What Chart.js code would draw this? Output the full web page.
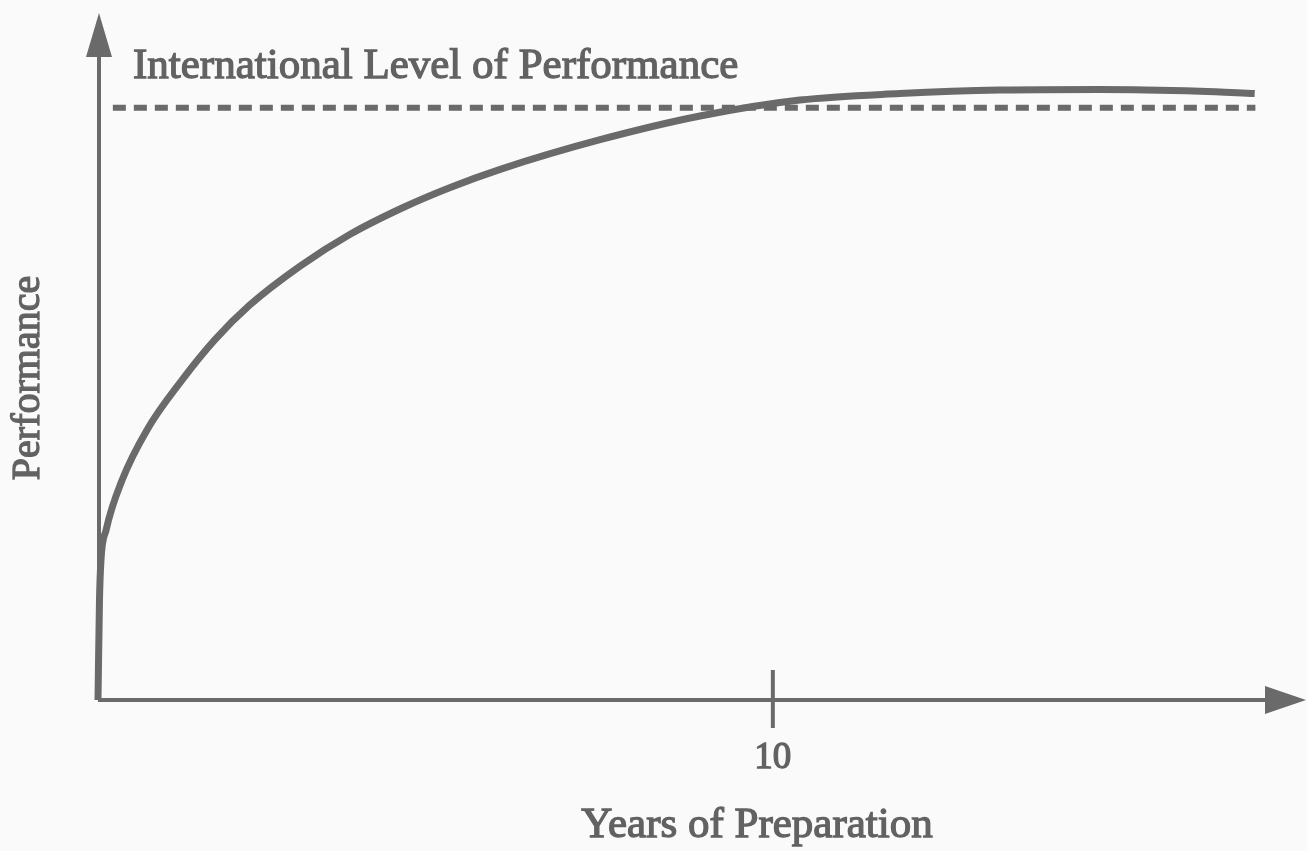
<!DOCTYPE html>
<html>
<head>
<meta charset="utf-8">
<script src="https://cdn.jsdelivr.net/npm/chart.js@4"></script>
<style>
  html, body { margin: 0; padding: 0; background: #fafafa; }
  #wrap { width: 1307px; height: 851px; position: relative; }
</style>
</head>
<body>
<div id="wrap"><canvas id="perfChart"></canvas></div>
<script>
// Years of preparation vs performance
const years = [0, 0.022, 0.044, 0.12, 0.356, 0.726, 1.244, 1.73, 2.25, 3.0, 3.73, 4.53, 5.21, 5.96, 7.44, 8.92, 10.4, 11.88, 13.36, 14.84, 16.33, 17.14];
const performance = [0, 16.9, 23.6, 28.7, 37.1, 45.6, 54, 60.8, 66.7, 73.3, 78.6, 83.2, 86.5, 89.6, 94.6, 98.6, 101.3, 102.4, 103, 103.1, 102.8, 102.4];

// International level (dashed line) and where it runs
const intlLevel = 100;
const intlRange = [0.22, 17.15];

const xTicks = [10];
const xMax = 17.9;
const yMax = 116;

const ink = '#6a6a6a';
const textInk = '#626262';

// axes with arrowheads, the single tick and all the text
const sketchAxes = {
    id: 'sketchAxes',
    beforeDatasetsDraw(chart) {
        const { ctx } = chart;
        const x = chart.scales.x, y = chart.scales.y;
        const x0 = x.getPixelForValue(0), y0 = y.getPixelForValue(0);
        const xEnd = x.getPixelForValue(xMax), yEnd = y.getPixelForValue(yMax);
        ctx.save();
        ctx.strokeStyle = ink;
        ctx.fillStyle = ink;
        ctx.lineWidth = 4;
        ctx.beginPath();
        ctx.moveTo(x0 + 1, y0);
        ctx.lineTo(x0 + 1, yEnd + 40);
        ctx.moveTo(x0, y0);
        ctx.lineTo(xEnd - 38, y0);
        ctx.stroke();
        // arrow heads
        ctx.beginPath();
        ctx.moveTo(x0 + 1, yEnd);
        ctx.lineTo(x0 + 14, yEnd + 44);
        ctx.lineTo(x0 - 12, yEnd + 44);
        ctx.closePath();
        ctx.fill();
        ctx.beginPath();
        ctx.moveTo(xEnd, y0);
        ctx.lineTo(xEnd - 41, y0 - 14);
        ctx.lineTo(xEnd - 41, y0 + 14);
        ctx.closePath();
        ctx.fill();
        // tick marks
        xTicks.forEach(v => {
            const px = x.getPixelForValue(v);
            ctx.beginPath();
            ctx.moveTo(px, y0 - 30);
            ctx.lineTo(px, y0 + 28);
            ctx.stroke();
        });
        ctx.restore();
    },
    afterDraw(chart) {
        const { ctx } = chart;
        const x = chart.scales.x;
        const y0 = chart.scales.y.getPixelForValue(0);
        ctx.save();
        ctx.fillStyle = textInk;
        ctx.strokeStyle = textInk;
        ctx.lineWidth = 1.3;
        const put = (txt, px, py) => { ctx.fillText(txt, px, py); ctx.strokeText(txt, px, py); };

        ctx.font = '37px "Liberation Serif"';
        ctx.textAlign = 'center';
        ctx.textBaseline = 'alphabetic';
        xTicks.forEach(v => put(String(v), x.getPixelForValue(v), y0 + 68));

        ctx.font = '43px "Liberation Serif"';
        put('Years of Preparation', 757, 837);

        ctx.textAlign = 'left';
        put('International Level of Performance', 133, 78);

        ctx.translate(39, 378);
        ctx.rotate(-Math.PI / 2);
        ctx.textAlign = 'center';
        ctx.font = '40px "Liberation Serif"';
        put('Performance', 0, 0);
        ctx.restore();
    }
};

const ctx = document.getElementById('perfChart').getContext('2d');
new Chart(ctx, {
    type: 'line',
    data: {
        datasets: [{
            label: 'Performance',
            data: years.map((v, i) => ({ x: v, y: performance[i] })),
            borderColor: ink,
            borderWidth: 7,
            pointRadius: 0,
            cubicInterpolationMode: 'monotone',
            fill: false,
            clip: false
        }, {
            label: 'International Level of Performance',
            data: intlRange.map(v => ({ x: v, y: intlLevel })),
            borderColor: ink,
            borderWidth: 6,
            borderDash: [13, 8],
            pointRadius: 0,
            fill: false,
            clip: false
        }]
    },
    options: {
        responsive: true,
        maintainAspectRatio: false,
        animation: false,
        layout: { padding: { left: 98, top: 13, right: 1, bottom: 151 } },
        scales: {
            x: { type: 'linear', min: 0, max: xMax, display: false },
            y: { min: 0, max: yMax, display: false }
        },
        plugins: {
            legend: { display: false },
            tooltip: { enabled: false }
        }
    },
    plugins: [sketchAxes]
});
</script>
</body>
</html>
